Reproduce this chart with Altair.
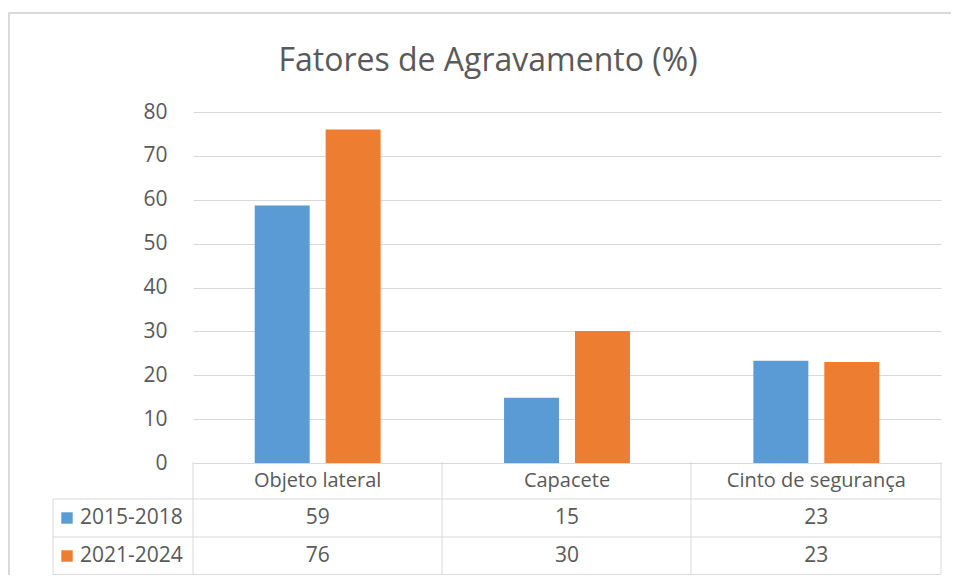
import altair as alt
import pandas as pd

categories = ["Objeto lateral", "Capacete", "Cinto de segurança"]
series = ["2015-2018", "2021-2024"]
values_2015_2018 = [58.7, 14.9, 23.3]
values_2021_2024 = [76.0, 30.1, 23.0]
series_colors = ["#5B9BD5", "#ED7D31"]
y_ticks = [0, 10, 20, 30, 40, 50, 60, 70, 80]
title_text = "Fatores de Agravamento (%)"

rows = []
for s, vals in zip(series, [values_2015_2018, values_2021_2024]):
    for c, v in zip(categories, vals):
        rows.append({"categoria": c, "periodo": s, "valor": v})
df = pd.DataFrame(rows)
cat_df = pd.DataFrame({"categoria": categories})
ser_df = pd.DataFrame({"periodo": series})

FONT = "Open Sans"
TXT = "#595959"
GRID = "#d9d9d9"
W, H = 748, 351

xenc = alt.X("categoria:N", sort=categories,
             scale=alt.Scale(paddingInner=0, paddingOuter=0), axis=None)
color = alt.Color("periodo:N", scale=alt.Scale(domain=series, range=series_colors), legend=None)

bars = alt.Chart(df).mark_bar().encode(
    x=xenc,
    xOffset=alt.XOffset("periodo:N", sort=series,
                        scale=alt.Scale(paddingInner=0.225, paddingOuter=0.87)),
    y=alt.Y("valor:Q", scale=alt.Scale(domain=[0, 80]),
            axis=alt.Axis(values=y_ticks, grid=True, gridColor=GRID, gridWidth=1,
                          domain=False, ticks=False, labelFontSize=21,
                          labelColor=TXT, labelFont=FONT, labelPadding=26, title=None)),
    color=color,
)

layers = [bars]

# title
layers.append(alt.Chart(alt.Data(values=[{"t": title_text}])).mark_text(
    font=FONT, fontSize=32, color=TXT, align="center", baseline="alphabetic"
).encode(x=alt.value(295), y=alt.value(-41), text="t:N"))

# table header (category names)
layers.append(alt.Chart(cat_df).mark_text(
    font=FONT, fontSize=20, color=TXT, baseline="middle"
).encode(x=xenc, y=alt.value(368.5), text="categoria:N"))

row_y = [406, 444]
for s, col, ry in zip(series, series_colors, row_y):
    layers.append(alt.Chart(df).transform_filter(alt.datum.periodo == s).mark_text(
        font=FONT, fontSize=21, color=TXT, baseline="middle"
    ).encode(x=xenc, y=alt.value(ry), text=alt.Text("valor:Q", format=".0f")))
    layers.append(alt.Chart(ser_df).transform_filter(alt.datum.periodo == s).mark_square(
        size=130, filled=True, opacity=1
    ).encode(x=alt.value(-126), y=alt.value(ry), color=alt.value(col)))
    layers.append(alt.Chart(ser_df).transform_filter(alt.datum.periodo == s).mark_text(
        font=FONT, fontSize=21, color=TXT, align="left", baseline="middle"
    ).encode(x=alt.value(-113), y=alt.value(ry), text="periodo:N"))


def rule(x1, x2, y1, y2, color=GRID, width=1):
    return alt.Chart(alt.Data(values=[{}])).mark_rule(color=color, strokeWidth=width).encode(
        x=alt.value(x1), x2=alt.value(x2), y=alt.value(y1), y2=alt.value(y2))


# table lines
for yy in [387, 425, 462.5]:
    layers.append(rule(-140, W, yy, yy))
for xx in [0, 249, 498, W]:
    layers.append(rule(xx, xx, 350, 462.5))
layers.append(rule(-140, -140, 387, 462.5))

# outer frame
layers.append(rule(-185, 758, -99, -99, color="#d9d9d9", width=2))
layers.append(rule(-184, -184, -99, 463, color="#d9d9d9", width=2))

chart = alt.layer(*layers).properties(
    width=W, height=H,
    autosize=alt.AutoSizeParams(type="none"),
    padding={"left": 185, "top": 104, "right": 10, "bottom": 112},
    background="white",
).configure_view(stroke=None)

chart.save("out.html", embed_options={"renderer": "svg", "actions": False})
